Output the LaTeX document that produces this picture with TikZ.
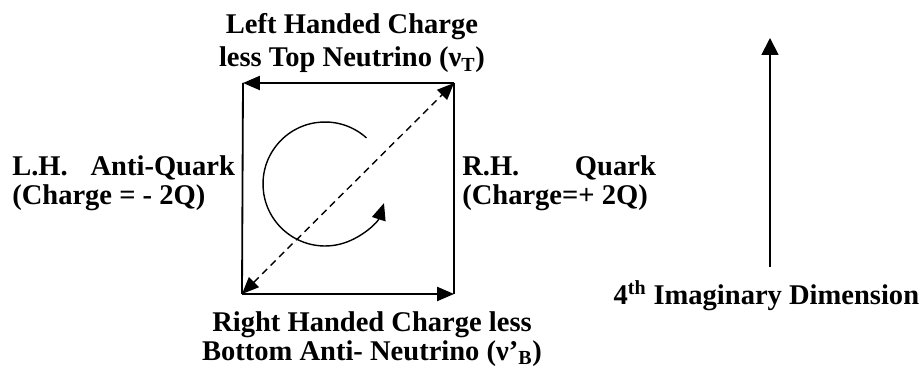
\documentclass[tikz,border=0pt]{standalone}
\usepackage{fontspec}
\setmainfont{Liberation Serif}
\usetikzlibrary{arrows.meta, positioning, calc}

\begin{document}
\begin{tikzpicture}[
        side/.style={line width=1.3pt},
        tip/.style={-{Triangle[length=12pt, width=10pt]}},
        caption/.style={font=\fontsize{20.3}{20.8}\selectfont\bfseries, inner sep=0pt}
    ]
    \useasboundingbox (0,0) rectangle (23,9.275);

    % Corners of the square
    \coordinate (tl) at (6.075,7.2);
    \coordinate (tr) at (11.35,7.2);
    \coordinate (bl) at (6.05,1.925);
    \coordinate (br) at (11.35,1.925);
    \coordinate (spin) at (8.125,4.675);

    % Sides of the square
    \draw[side, tip] (tr) -- (tl);
    \draw[side] (tl) -- (bl);
    \draw[side, tip] (bl) -- (br);
    \draw[side] (br) -- (tr);

    % Dashed diagonal, both ways
    \draw[line width=1pt, dash pattern=on 5pt off 3.5pt,
        {Triangle[length=12pt, width=10pt]}-{Triangle[length=12pt, width=10pt]}] (bl) -- (tr);

    % Rotation inside the square
    \draw[line width=1pt, tip] ($(spin)+(48:1.55)$) arc (48:342:1.55);

    % Labels round the square
    \node[caption, align=center, anchor=north] (top) at (8.8,8.95)
        {Left Handed Charge\\[3pt]less Top Neutrino (ν\textsubscript{T})};
    \node[caption, align=left, anchor=north west] (lh) at (0.3,5.4)
        {L.H.\hspace{0.8em}Anti-Quark\\(Charge = - 2Q)};
    \node[caption, align=left, anchor=north west] (rh) at (11.55,5.4)
        {R.H.\hspace{1.95em}Quark\\(Charge=+ 2Q)};
    \node[caption, align=center, anchor=north] (bottom) at (9.3,1.5)
        {Right Handed Charge less\\Bottom Anti- Neutrino (ν’\textsubscript{B})};

    % Imaginary axis
    \coordinate (axfoot) at (19.25,2.6);
    \coordinate (axhead) at (19.25,8.325);
    \draw[line width=1.3pt, -{Triangle[length=12pt, width=12pt]}] (axfoot) -- (axhead);
    \node[caption, anchor=base] (dim) at (19.16,1.65) {4\textsuperscript{th} Imaginary Dimension};
\end{tikzpicture}
\end{document}
